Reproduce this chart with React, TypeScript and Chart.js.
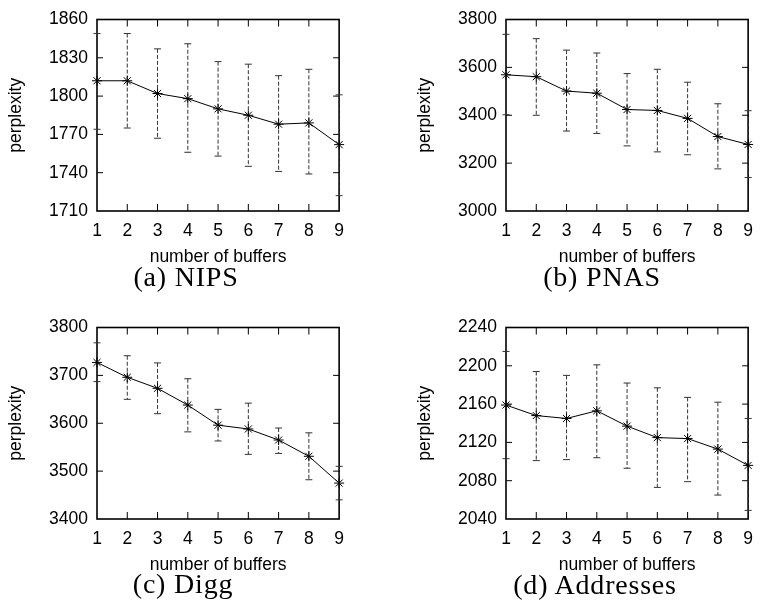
import React, { useEffect, useRef } from 'react';
import { Chart, registerables } from 'chart.js';

Chart.register(...registerables);

// ---------- data ----------
const BUFFERS = ['1', '2', '3', '4', '5', '6', '7', '8', '9'];

const NIPS_MEAN = [1812, 1812, 1802, 1798, 1790, 1785, 1778, 1779, 1762];
const NIPS_HIGH = [1849, 1849, 1837, 1841, 1827, 1825, 1816, 1821, 1801];
const NIPS_LOW = [1774, 1775, 1767, 1756, 1753, 1745, 1741, 1739, 1722];

const PNAS_MEAN = [3569, 3561, 3501, 3492, 3424, 3420, 3387, 3311, 3278];
const PNAS_HIGH = [3738, 3720, 3672, 3660, 3574, 3592, 3538, 3448, 3419];
const PNAS_LOW = [3402, 3400, 3334, 3324, 3272, 3247, 3235, 3176, 3140];

const DIGG_MEAN = [3727, 3696, 3673, 3638, 3596, 3588, 3565, 3531, 3475];
const DIGG_HIGH = [3768, 3741, 3726, 3693, 3629, 3642, 3590, 3580, 3510];
const DIGG_LOW = [3687, 3650, 3620, 3582, 3563, 3535, 3537, 3482, 3440];

const ADDR_MEAN = [2159, 2148, 2145, 2153, 2137, 2125, 2124, 2113, 2096];
const ADDR_HIGH = [2215, 2194, 2190, 2201, 2182, 2177, 2167, 2162, 2145];
const ADDR_LOW = [2103, 2101, 2102, 2104, 2093, 2073, 2079, 2065, 2049];

const X_TITLE = 'number of buffers';
const Y_TITLE = 'perplexity';

// ---------- plugin: frame, inward ticks, error bars ----------
const errorFramePlugin = {
  id: 'errorFrame',
  beforeDatasetsDraw(chart: any, _args: any, opts: any) {
    const { ctx, chartArea: a, scales } = chart;
    const xs = scales.x;
    const ys = scales.y;
    ctx.save();
    ctx.strokeStyle = '#000';
    ctx.lineWidth = 1.6;
    ctx.strokeRect(a.left, a.top, a.right - a.left, a.bottom - a.top);
    ctx.lineWidth = 1;
    ctx.beginPath();
    ys.ticks.forEach((t: any) => {
      if (t.value <= ys.min || t.value >= ys.max) return;
      const y = ys.getPixelForValue(t.value);
      ctx.moveTo(a.left, y);
      ctx.lineTo(a.left + 6, y);
      ctx.moveTo(a.right, y);
      ctx.lineTo(a.right - 6, y);
    });
    for (let i = 1; i < opts.low.length - 1; i++) {
      const x = xs.getPixelForValue(i);
      ctx.moveTo(x, a.bottom);
      ctx.lineTo(x, a.bottom - 7);
      ctx.moveTo(x, a.top);
      ctx.lineTo(x, a.top + 7);
    }
    ctx.stroke();
    ctx.strokeStyle = '#333';
    ctx.lineWidth = 1;
    for (let i = 0; i < opts.low.length; i++) {
      const x = xs.getPixelForValue(i);
      const yl = ys.getPixelForValue(opts.low[i]);
      const yh = ys.getPixelForValue(opts.high[i]);
      ctx.setLineDash([4, 2]);
      ctx.beginPath();
      ctx.moveTo(x, yh);
      ctx.lineTo(x, yl);
      ctx.stroke();
      ctx.setLineDash([]);
      ctx.beginPath();
      ctx.moveTo(x - 3.5, yh);
      ctx.lineTo(x + 3.5, yh);
      ctx.moveTo(x - 3.5, yl);
      ctx.lineTo(x + 3.5, yl);
      ctx.stroke();
    }
    ctx.restore();
  },
};

const SANS = { family: '"Liberation Sans", Arial, sans-serif', size: 17.5 };

type PanelProps = {
  left: number;
  top: number;
  plotTop: number;
  plotLeft: number;
  plotRight: number;
  plotBottom: number;
  titlePad: number;
  mean: number[];
  low: number[];
  high: number[];
  yMin: number;
  yMax: number;
  yStep: number;
  caption: string;
  capX: number;
  capY: number;
};

const CW = 354;
const CH = 268;

function Panel(p: PanelProps) {
  const ref = useRef<HTMLCanvasElement>(null);
  useEffect(() => {
    if (!ref.current) return;
    const chart = new Chart(ref.current, {
      type: 'line',
      data: {
        labels: BUFFERS,
        datasets: [
          {
            data: p.mean,
            borderColor: '#000',
            borderWidth: 1,
            pointStyle: 'star',
            pointRadius: 5,
            pointBorderColor: '#000',
            pointBackgroundColor: '#000',
            pointBorderWidth: 1,
            tension: 0,
            clip: false as any,
          },
        ],
      },
      options: {
        animation: false,
        responsive: false,
        devicePixelRatio: 1,
        layout: { padding: { left: 0, top: p.plotTop, right: CW - p.plotRight, bottom: 0 } },
        plugins: {
          legend: { display: false },
          tooltip: { enabled: false },
          errorFrame: { low: p.low, high: p.high },
        } as any,
        scales: {
          x: {
            type: 'category',
            offset: false,
            grid: { display: false, drawTicks: false },
            border: { display: false },
            ticks: { color: '#000', font: SANS, padding: 10, maxRotation: 0, autoSkip: false },
            title: { display: true, text: X_TITLE, color: '#000', font: SANS, padding: { top: 0, bottom: p.titlePad } },
            afterFit: (s: any) => {
              s.height = CH - p.plotBottom;
            },
          },
          y: {
            type: 'linear',
            min: p.yMin,
            max: p.yMax,
            grid: { display: false, drawTicks: false },
            border: { display: false },
            ticks: {
              stepSize: p.yStep,
              color: '#000',
              font: SANS,
              padding: 9,
              callback: (v: any) => String(v),
            },
            title: { display: true, text: Y_TITLE, color: '#000', font: SANS, padding: { top: 6, bottom: 0 } },
            afterFit: (s: any) => {
              s.width = p.plotLeft;
            },
          },
        },
      } as any,
      plugins: [errorFramePlugin],
    });
    return () => chart.destroy();
  }, []);
  return (
    <>
      <div style={{ position: 'absolute', left: p.left, top: p.top, width: CW, height: CH }}>
        <canvas ref={ref} width={CW} height={CH} style={{ width: CW, height: CH, display: 'block' }} />
      </div>
      <div
        style={{
          position: 'absolute',
          left: p.capX,
          top: p.capY,
          transform: 'translate(-50%, -50%)',
          fontFamily: '"Liberation Serif", "Times New Roman", serif',
          fontSize: 28,
          letterSpacing: 0.8,
          lineHeight: 1,
          whiteSpace: 'nowrap',
          color: '#000',
        }}
      >
        {p.caption}
      </div>
    </>
  );
}

export default function App() {
  return (
    <div style={{ position: 'absolute', left: 0, top: 0, width: 763, height: 610, background: '#fff', overflow: 'hidden' }}>
      <Panel left={0} top={0} plotLeft={97} plotRight={345} plotTop={15} plotBottom={211} titlePad={0.5}
        mean={NIPS_MEAN} low={NIPS_LOW} high={NIPS_HIGH} yMin={1710} yMax={1860} yStep={30}
        caption="(a) NIPS" capX={186} capY={277} />
      <Panel left={409} top={0} plotLeft={97} plotRight={347} plotTop={15} plotBottom={211} titlePad={0.5}
        mean={PNAS_MEAN} low={PNAS_LOW} high={PNAS_HIGH} yMin={3000} yMax={3800} yStep={200}
        caption="(b) PNAS" capX={602} capY={277} />
      <Panel left={0} top={308} plotLeft={97} plotRight={345} plotTop={15} plotBottom={211} titlePad={0}
        mean={DIGG_MEAN} low={DIGG_LOW} high={DIGG_HIGH} yMin={3400} yMax={3800} yStep={100}
        caption="(c) Digg" capX={183} capY={584} />
      <Panel left={409} top={308} plotLeft={97} plotRight={347} plotTop={16} plotBottom={211} titlePad={0}
        mean={ADDR_MEAN} low={ADDR_LOW} high={ADDR_HIGH} yMin={2040} yMax={2240} yStep={40}
        caption="(d) Addresses" capX={595} capY={585} />
    </div>
  );
}
